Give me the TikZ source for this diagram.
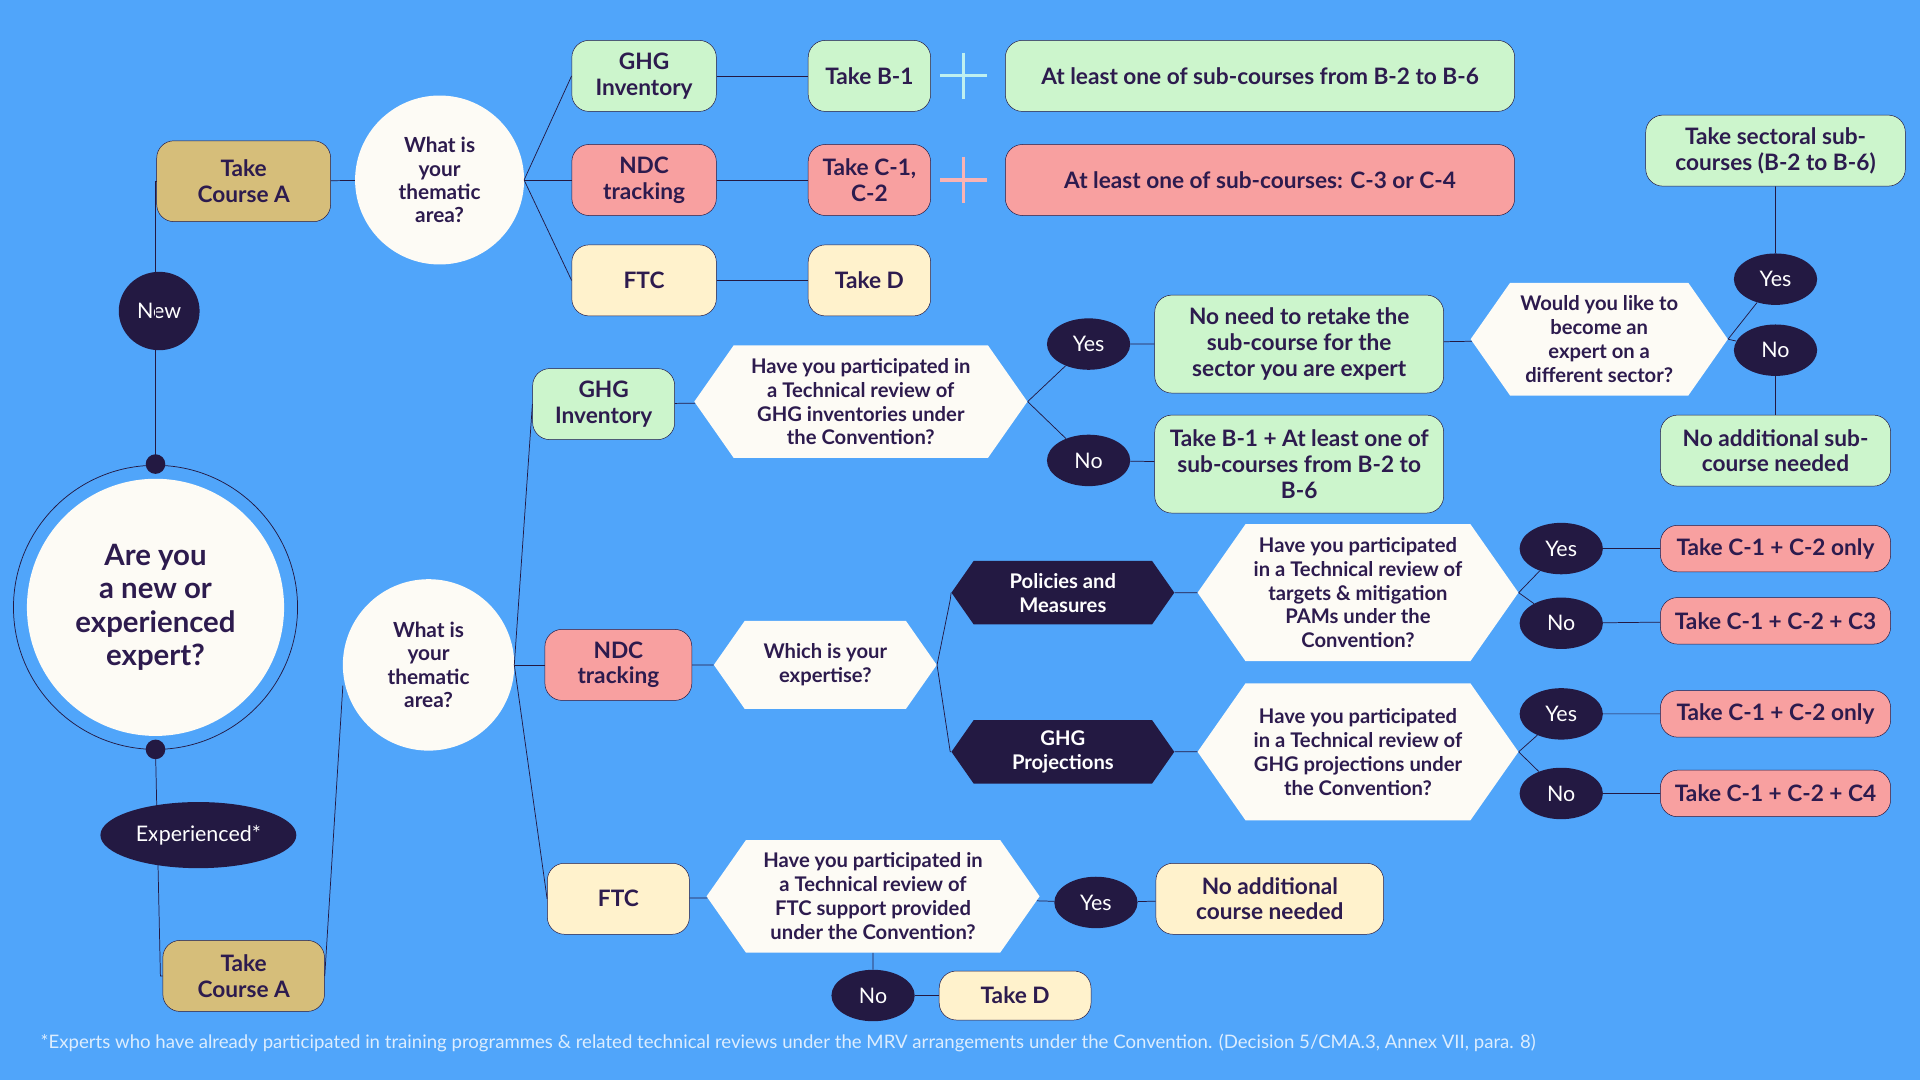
\documentclass[tikz,border=0pt]{standalone}
\usepackage{fontspec}
\setmainfont{Lato}
\usetikzlibrary{shapes.symbols,shapes.geometric}
\definecolor{bg}{RGB}{80,165,250}
\definecolor{gr}{RGB}{204,245,204}
\definecolor{pk}{RGB}{248,160,160}
\definecolor{yl}{RGB}{255,242,204}
\definecolor{kh}{RGB}{214,190,122}
\definecolor{nv}{RGB}{35,25,66}
\definecolor{wt}{RGB}{253,251,245}
\definecolor{tx}{RGB}{45,27,78}
\begin{document}
\begin{tikzpicture}[x=1pt,y=-1pt,
 box/.style={draw=nv,line width=0.4pt,rounded corners=14pt,align=center,text=tx,font=\fontsize{18.5}{21}\selectfont\bfseries,inner sep=2pt},
 hexw/.style={signal,signal to=east and west,signal pointer angle=110,fill=wt,align=center,text=tx,font=\fontsize{16.5}{19.5}\selectfont\bfseries,inner sep=1pt},
 hexd/.style={hexw,fill=nv,text=white},
 yn/.style={ellipse,fill=nv,text=white,font=\fontsize{17.5}{19}\selectfont,minimum width=68pt,minimum height=42pt,inner sep=0pt},
 qc/.style={circle,fill=wt,align=center,text=tx,font=\fontsize{17}{19}\selectfont\bfseries},
 ln/.style={draw=nv,line width=0.6pt}]
\fill[bg] (0,0) rectangle (1568,882);
\useasboundingbox (0,0) rectangle (1568,882);
% main circle
\draw[nv,line width=0.6pt] (127,496) circle (116);
\node[circle,fill=wt,minimum size=210pt,align=center,text=tx,font=\fontsize{24}{27}\selectfont\bfseries] (main) at (127,496) {Are you\\a new or\\experienced\\expert?};
\fill[nv] (127,379) coordinate (d1) circle (8);
\fill[nv] (127,612) coordinate (d2) circle (8);
\node[yn,minimum width=66pt,minimum height=64pt] (new) at (130,254) {New};
\node[yn,minimum width=160pt,minimum height=54pt] (exp) at (162,682) {Experienced*};
\node[box,fill=kh,minimum width=142pt,minimum height=66pt] (ca1) at (199,148) {Take\\Course A};
\node[box,fill=kh,minimum width=132pt,minimum height=58pt] (ca2) at (199,797) {Take\\Course A};
\node[qc,minimum size=138pt] (q1) at (359,147) {What is\\your\\thematic\\area?};
\node[qc,minimum size=140pt] (q2) at (350,543) {What is\\your\\thematic\\area?};
\draw[ln] (d1) -- (127,148) -- (ca1.west);
\draw[ln] (d2) -- (131,797) -- (ca2.west);
\draw[ln] (ca1) -- (q1);
\draw[ln] (ca2.east) -- (280,560);
% top branch
\node[box,fill=gr,minimum width=118pt,minimum height=58pt] (g1) at (526,62) {GHG\\Inventory};
\node[box,fill=pk,minimum width=118pt,minimum height=58pt] (n1) at (526,147) {NDC\\tracking};
\node[box,fill=yl,minimum width=118pt,minimum height=58pt] (f1) at (526,229) {FTC};
\node[box,fill=gr,minimum width=100pt,minimum height=58pt] (b1) at (710,62) {Take B-1};
\node[box,fill=pk,minimum width=100pt,minimum height=58pt] (c1) at (710,147) {Take C-1,\\C-2};
\node[box,fill=yl,minimum width=100pt,minimum height=58pt] (td1) at (710,229) {Take D};
\node[box,fill=gr,minimum width=416pt,minimum height=58pt] (l1) at (1029,62) {At least one of sub-courses from B-2 to B-6};
\node[box,fill=pk,minimum width=416pt,minimum height=58pt] (l2) at (1029,147) {At least one of sub-courses: C-3 or C-4};
\draw[line width=2.5pt,color={rgb,255:red,190;green,240;blue,240}] (768,62)--(806,62) (787,43)--(787,81);
\draw[line width=2.5pt,color=pk!80!white] (768,147)--(806,147) (787,128)--(787,166);
\foreach \t in {g1,n1,f1} \draw[ln] (428,147) -- (\t.west);
\draw[ln] (g1)--(b1) (n1)--(c1) (f1)--(td1);
% GHG experienced
\node[box,fill=gr,minimum width=116pt,minimum height=58pt] (g2) at (493,330) {GHG\\Inventory};
\node[box,fill=pk,minimum width=120pt,minimum height=58pt] (n2) at (505,543) {NDC\\tracking};
\node[box,fill=yl,minimum width=116pt,minimum height=58pt] (f2) at (505,734) {FTC};
\foreach \t in {g2,n2,f2} \draw[ln] (420,543) -- (\t.west);
\node[hexw,minimum width=272pt,minimum height=92pt] (h1) at (703,328) {Have you participated in\\a Technical review of\\GHG inventories under\\the Convention?};
\node[yn] (y1) at (889,281) {Yes};
\node[yn] (no1) at (889,376) {No};
\node[box,fill=gr,minimum width=236pt,minimum height=80pt] (nn) at (1061,281) {No need to retake the\\sub-course for the\\sector you are expert};
\node[box,fill=gr,minimum width=236pt,minimum height=80pt] (tb) at (1061,379) {Take B-1 + At least one of\\sub-courses from B-2 to\\B-6};
\node[hexw,minimum width=210pt,minimum height=92pt] (h2) at (1306,277) {Would you like to\\become an\\expert on a\\different sector?};
\node[yn] (y2) at (1450,228) {Yes};
\node[yn] (no2) at (1450,286) {No};
\node[box,fill=gr,minimum width=212pt,minimum height=58pt] (ts) at (1450,123) {Take sectoral sub-\\courses (B-2 to B-6)};
\node[box,fill=gr,minimum width=188pt,minimum height=58pt] (na) at (1450,368) {No additional sub-\\course needed};
\draw[ln] (g2)--(h1) (h1.east)--(y1) (h1.east)--(no1) (y1)--(nn) (no1)--(tb) (nn)--(h2) (h2.east)--(y2) (h2.east)--(no2) (y2)--(ts) (no2)--(na);
% NDC experienced
\node[hexw,minimum width=182pt,minimum height=72pt] (h3) at (674,543) {Which is your\\expertise?};
\node[hexd,minimum width=182pt,minimum height=52pt] (pm) at (868,484) {Policies and\\Measures};
\node[hexd,minimum width=182pt,minimum height=52pt] (gp) at (868,614) {GHG\\Projections};
\node[hexw,minimum width=262pt,minimum height=112pt] (h4) at (1109,484) {Have you participated\\in a Technical review of\\targets \& mitigation\\PAMs under the\\Convention?};
\node[hexw,minimum width=262pt,minimum height=112pt] (h5) at (1109,614) {Have you participated\\in a Technical review of\\GHG projections under\\the Convention?};
\node[yn] (y3) at (1275,448) {Yes};
\node[yn] (no3) at (1275,509) {No};
\node[yn] (y4) at (1275,583) {Yes};
\node[yn] (no4) at (1275,648) {No};
\node[box,fill=pk,minimum width=188pt,minimum height=38pt] (p1) at (1450,448) {Take C-1 + C-2 only};
\node[box,fill=pk,minimum width=188pt,minimum height=38pt] (p2) at (1450,507) {Take C-1 + C-2  + C3};
\node[box,fill=pk,minimum width=188pt,minimum height=38pt] (p3) at (1450,583) {Take C-1 + C-2 only};
\node[box,fill=pk,minimum width=188pt,minimum height=38pt] (p4) at (1450,648) {Take C-1 + C-2  + C4};
\draw[ln] (n2)--(h3) (h3.east)--(776,490)--(pm.west) (h3.east)--(776,614)--(gp.west) (pm)--(h4) (gp)--(h5)
 (h4.east)--(y3) (h4.east)--(no3) (h5.east)--(y4) (h5.east)--(no4) (y3)--(p1) (no3)--(p2) (y4)--(p3) (no4)--(p4);
% FTC experienced
\node[hexw,minimum width=272pt,minimum height=92pt] (h6) at (713,732) {Have you participated in\\a Technical review of\\FTC support provided\\under the Convention?};
\node[yn] (y5) at (895,737) {Yes};
\node[box,fill=yl,minimum width=186pt,minimum height=58pt] (nc) at (1037,734) {No additional\\course needed};
\node[yn] (no5) at (713,813) {No};
\node[box,fill=yl,minimum width=124pt,minimum height=40pt] (td2) at (829,813) {Take D};
\draw[ln] (f2)--(h6) (h6)--(y5) (y5)--(nc) (h6)--(no5) (no5)--(td2);
\node[anchor=west,text=white!80!bg,font=\fontsize{15.2}{17}\selectfont,inner sep=0pt] (fn) at (33,852) {*Experts who have already participated in training programmes \& related technical reviews under the MRV arrangements under the Convention. (Decision 5/CMA.3, Annex VII, para. 8)};
\end{tikzpicture}
\end{document}
